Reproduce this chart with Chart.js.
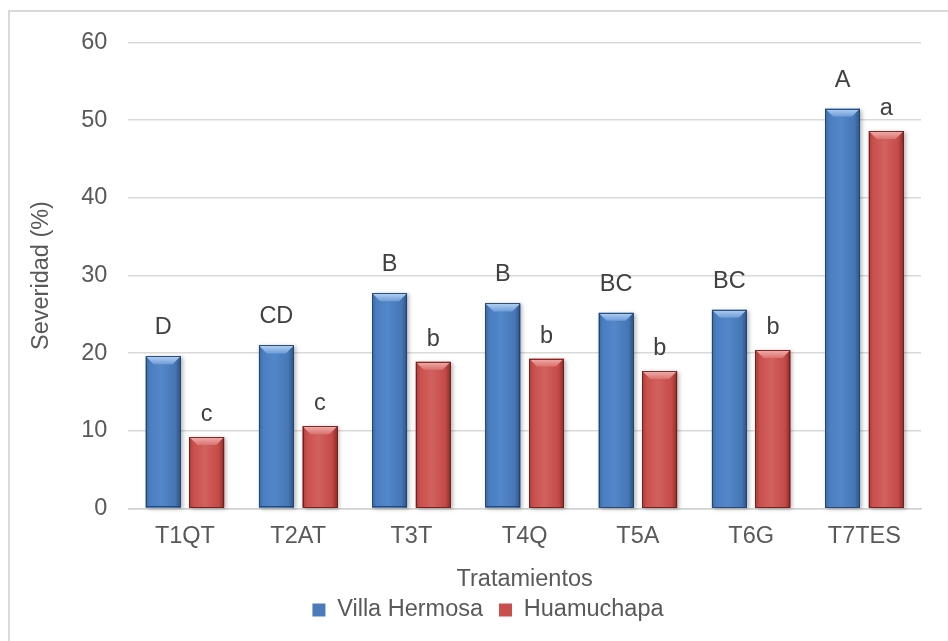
<!DOCTYPE html>
<html>
<head>
<meta charset="utf-8">
<title>Severidad por tratamiento</title>
<script src="https://cdn.jsdelivr.net/npm/chart.js@4/dist/chart.umd.min.js"></script>
<style>
  html, body { margin: 0; padding: 0; background: #ffffff; }
  #wrap { position: relative; width: 948px; height: 641px; overflow: hidden; }
  #frame { position: absolute; left: 8px; top: 10px; width: 960px; height: 660px;
           border-left: 2px solid #d9d9d9; border-top: 2px solid #d9d9d9; box-sizing: border-box; }
  canvas { position: absolute; left: 0; top: 0; }
</style>
</head>
<body>
<div id="wrap">
  <div id="frame"></div>
  <canvas id="chart" width="948" height="641"></canvas>
</div>
<script>
// Treatments on the category axis
const categories = ['T1QT', 'T2AT', 'T3T', 'T4Q', 'T5A', 'T6G', 'T7TES'];

// Disease severity (%) at each site
const villaHermosa = [19.6, 21.0, 27.7, 26.4, 25.2, 25.6, 51.5];
const huamuchapa   = [9.2, 10.6, 18.9, 19.3, 17.7, 20.4, 48.6];

// Mean-separation letters printed above the bars
const lettersVilla = ['D', 'CD', 'B', 'B', 'BC', 'BC', 'A'];
const lettersHuam  = ['c', 'c', 'b', 'b', 'b', 'b', 'a'];

// Y axis ticks
const yTicks = [0, 10, 20, 30, 40, 50, 60];

const FONT = '"Liberation Sans", Arial, Helvetica, sans-serif';
const FSIZE = 23.5;
const TEXT = '#595959';

// Shading for the bevelled bars, one palette per series
const palettes = [
  { edgeL: '#3a68a3', mid1: '#4b7ec0', mid2: '#5287c9', mid3: '#4676b4', edgeR: '#2c5283',
    bevTop: '#b3d2f3', bevBot: '#6f9cd8', line: 'rgba(35,65,110,0.9)' },
  { edgeL: '#a83d3b', mid1: '#c94f4c', mid2: '#d2615e', mid3: '#c44a47', edgeR: '#8a2b29',
    bevTop: '#f3b0ad', bevBot: '#d9726f', line: 'rgba(110,30,28,0.9)' }
];

// Repaints each bar with a horizontal sheen and a light bevel across its top
const bevelBars = {
  id: 'bevelBars',
  afterDatasetsDraw(chart) {
    const ctx = chart.ctx;
    chart.data.datasets.forEach((ds, di) => {
      const meta = chart.getDatasetMeta(di);
      const p = palettes[di];
      meta.data.forEach((bar) => {
        const w = bar.width;
        const x0 = bar.x - w / 2, x1 = bar.x + w / 2;
        const y0 = bar.y, yb = bar.base;
        ctx.save();
        // soft drop shadow
        ctx.shadowColor = 'rgba(0,0,0,0.28)';
        ctx.shadowBlur = 4;
        ctx.shadowOffsetX = 2;
        ctx.shadowOffsetY = 1;
        const g = ctx.createLinearGradient(x0, 0, x1, 0);
        g.addColorStop(0, p.edgeL);
        g.addColorStop(0.12, p.mid1);
        g.addColorStop(0.45, p.mid2);
        g.addColorStop(0.85, p.mid3);
        g.addColorStop(1, p.edgeR);
        ctx.fillStyle = g;
        ctx.fillRect(x0, y0, w, yb - y0);
        ctx.restore();

        // top bevel
        const b = Math.min(8, (yb - y0) / 2);
        ctx.save();
        const gt = ctx.createLinearGradient(0, y0, 0, y0 + b);
        gt.addColorStop(0, p.bevTop);
        gt.addColorStop(1, p.bevBot);
        ctx.fillStyle = gt;
        ctx.beginPath();
        ctx.moveTo(x0, y0);
        ctx.lineTo(x1, y0);
        ctx.lineTo(x1 - b, y0 + b);
        ctx.lineTo(x0 + b, y0 + b);
        ctx.closePath();
        ctx.fill();
        // thin outline
        ctx.strokeStyle = p.line;
        ctx.lineWidth = 1;
        ctx.strokeRect(Math.round(x0) + 0.5, Math.round(y0) + 0.5, Math.round(w) - 1, Math.round(yb - y0) - 1);
        ctx.restore();
      });
    });
  }
};

// Writes the significance letters centred over each bar
const letterLabels = {
  id: 'letterLabels',
  afterDatasetsDraw(chart) {
    const ctx = chart.ctx;
    const sets = [lettersVilla, lettersHuam];
    const lift = [22, 16];
    ctx.save();
    ctx.font = FSIZE + 'px ' + FONT;
    ctx.fillStyle = '#404040';
    ctx.textAlign = 'center';
    ctx.textBaseline = 'alphabetic';
    chart.data.datasets.forEach((ds, di) => {
      chart.getDatasetMeta(di).data.forEach((bar, i) => {
        ctx.fillText(sets[di][i], bar.x, bar.y - lift[di]);
      });
    });
    ctx.restore();
  }
};

new Chart(document.getElementById('chart'), {
  type: 'bar',
  data: {
    labels: categories,
    datasets: [
      { label: 'Villa Hermosa', data: villaHermosa, backgroundColor: '#4a7cbc', borderWidth: 0 },
      { label: 'Huamuchapa', data: huamuchapa, backgroundColor: '#c94f4c', borderWidth: 0 }
    ]
  },
  options: {
    responsive: false,
    animation: false,
    devicePixelRatio: 1,
    datasets: { bar: { barPercentage: 0.8, categoryPercentage: 0.77 } },
    layout: { padding: { left: 55, right: 27, top: 42.5, bottom: 9.25 } },
    plugins: {
      tooltip: { enabled: false },
      legend: {
        position: 'bottom',
        labels: {
          font: { family: FONT, size: FSIZE },
          color: TEXT,
          boxWidth: 13,
          boxHeight: 13,
          padding: 16
        }
      }
    },
    scales: {
      x: {
        grid: { display: false, drawTicks: false },
        border: { display: true, color: '#d0d0d0', width: 1.5 },
        ticks: { font: { family: FONT, size: FSIZE }, color: TEXT, padding: 13.5 },
        title: { display: true, text: 'Tratamientos', font: { family: FONT, size: FSIZE }, color: TEXT,
                 padding: { top: 1.25, bottom: -10.9 } }
      },
      y: {
        min: 0,
        max: 60,
        afterBuildTicks(scale) { scale.ticks = yTicks.map(v => ({ value: v })); },
        afterFit(scale) { scale.width = 73.3; },
        grid: { color: '#d9d9d9', lineWidth: 1.5, drawTicks: false },
        border: { display: false },
        ticks: { font: { family: FONT, size: FSIZE }, color: TEXT, padding: 21 },
        title: { display: true, text: 'Severidad (%)', font: { family: FONT, size: FSIZE }, color: TEXT,
                 padding: { top: -27.4, bottom: 0 } }
      }
    }
  },
  plugins: [bevelBars, letterLabels]
});
</script>
</body>
</html>
